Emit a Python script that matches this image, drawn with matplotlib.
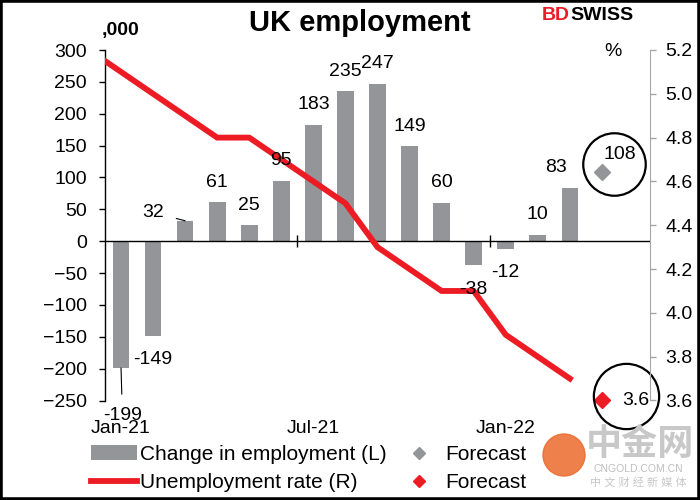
import numpy as np
import matplotlib
matplotlib.use('Agg')
import matplotlib.pyplot as plt
from matplotlib.patches import Patch, Ellipse, Rectangle
from matplotlib.lines import Line2D
from matplotlib.transforms import offset_copy

plt.rcParams['font.family'] = ['Liberation Sans', 'Noto Sans CJK SC', 'DejaVu Sans']

# --- data (Jan-21 .. Mar-22, forecast Apr-22) ---
emp_change = [-199, -149, 32, 61, 25, 95, 183, 235, 247, 149, 60, -38, -12, 10, 83]
emp_forecast = 108
# unemployment rate, Dec-20 .. Mar-22 (Dec-20 falls just left of the axis)
unemp_rate = [5.2, 5.1, 5.0, 4.9, 4.8, 4.8, 4.7, 4.6, 4.5, 4.3, 4.2, 4.1, 4.1, 3.9, 3.8, 3.7]
unemp_forecast = 3.6
xtick_pos = [0, 6, 12]
xtick_labels = ['Jan-21', 'Jul-21', 'Jan-22']

# label offsets in points (dx, dy) for bars, default sits above/below bar end
label_offsets = {0: (1, -34), 2: (-23, 6), 14: (-10, 15)}

BAR = '#939598'
RED = '#ED1C24'
FS = 14

x_bar = np.arange(len(emp_change))
x_fc = len(emp_change)
x_line = np.arange(-1, len(unemp_rate) - 1)

fig = plt.figure(figsize=(7, 5), dpi=100)
ax = fig.add_axes([105/700, 1 - 400.5/500, 545/700, 350.5/500])
ax2 = ax.twinx()

ax.bar(x_bar, emp_change, width=0.52, color=BAR, zorder=2)
ax.axhline(0, color='black', lw=1, zorder=3)
ax.set_xlim(-0.5, 16.5)
ax.set_ylim(-250, 300)
ax.set_yticks(range(-250, 301, 50))
ax.set_xticks(xtick_pos)
ax.set_xticklabels(xtick_labels)
ax.tick_params(axis='x', length=0, pad=14, labelsize=FS)
ax.tick_params(axis='y', length=4.5, width=1, pad=8.5, labelsize=FS)
for s in ['top', 'bottom', 'right']:
    ax.spines[s].set_visible(False)
ax.spines['left'].set_linewidth(1)

# small tick marks on the zero line every 6 months
zero_frac = (0 - (-250)) / (300 - (-250))
sec = ax.secondary_xaxis(zero_frac)
sec.set_xticks([5.5, 11.5])
sec.set_xticklabels([])
sec.tick_params(axis='x', direction='inout', length=8, width=1)
sec.spines['bottom'].set_visible(False)

ax2.plot(x_line, unemp_rate, color=RED, lw=4.2, solid_joinstyle='miter', zorder=3)
ax2.plot([x_fc], [unemp_forecast], marker='D', ms=8, color=RED, ls='none', clip_on=False)
ax2.set_ylim(3.6, 5.2)
ax2.set_yticks(np.arange(3.6, 5.21, 0.2))
ax2.set_yticklabels([f'{v:.1f}' for v in np.arange(3.6, 5.21, 0.2)])
ax2.tick_params(axis='y', length=4.5, width=1, pad=6.5, labelsize=FS, color='#A6A6A6')
for s in ['top', 'bottom', 'left']:
    ax2.spines[s].set_visible(False)
ax2.spines['right'].set_color('#A6A6A6')
ax2.set_xlim(-0.5, 16.5)

# employment forecast marker (left scale, drawn on top)
ax2.plot([x_fc], [emp_forecast], marker='D', ms=8, color=BAR, ls='none',
         transform=ax.transData, zorder=4)

# bar labels on top of the line
for i, v in enumerate(emp_change):
    dx, dy = label_offsets.get(i, (0, 14.5 if v > 0 else -17))
    arrow = dict(arrowstyle='-', color='black', lw=0.8, shrinkA=7, shrinkB=0) if i in (0, 2) else None
    ax2.annotate(str(v), xy=(i, v), xycoords=ax.transData, xytext=(dx, dy),
                 textcoords='offset points', ha='center', va='center', fontsize=FS,
                 arrowprops=arrow, zorder=5)
ax2.annotate(str(emp_forecast), xy=(x_fc, emp_forecast), xycoords=ax.transData,
             xytext=(13, 13), textcoords='offset points', ha='center', va='center', fontsize=FS)
ax2.annotate(f'{unemp_forecast:.1f}', xy=(x_fc, unemp_forecast), xytext=(24.5, 0),
             textcoords='offset points', ha='center', va='center', fontsize=FS,
             annotation_clip=False)

# highlight circles around forecasts
c1 = offset_copy(ax.transData, fig=fig, x=8.5, y=6, units='points')
ax2.plot([x_fc], [emp_forecast], marker='o', ms=45, mfc='none', mec='black', mew=1.6,
         transform=c1, clip_on=False)
c2 = offset_copy(ax2.transData, fig=fig, x=17, y=3, units='points')
ax2.plot([x_fc], [unemp_forecast], marker='o', ms=47, mfc='none', mec='black', mew=1.6,
         transform=c2, clip_on=False)

# titles and unit labels
fig.text(360/700, 1 - 23/500, 'UK employment', ha='center', va='center',
         fontsize=21, fontweight='bold')
fig.text(121/700, 1 - 31/500, ',000', ha='center', va='center', fontsize=14, fontweight='bold')
fig.text(613/700, 1 - 52/500, '%', ha='center', va='center', fontsize=14)

# BDSWISS logo text
bd = fig.text(542/700, 1 - 16/500, 'BD', ha='left', va='center', fontsize=14,
              fontweight='bold', color=RED)
fig.add_artist(plt.Annotation('SWISS', xy=(1, 0.5), xycoords=bd, va='center', ha='left',
                              fontsize=14, fontweight='bold', color='black'))

# legend
handles = [
    Patch(facecolor=BAR, edgecolor='none'),
    Line2D([], [], color=RED, lw=4.2),
    Line2D([], [], marker='D', ms=6, color=BAR, ls='none'),
    Line2D([], [], marker='D', ms=6, color=RED, ls='none'),
]
labels = ['Change in employment (L)', 'Unemployment rate (R)', 'Forecast', 'Forecast']
fig.legend(handles, labels, ncol=2, loc='upper left', bbox_to_anchor=(91/700, 1 - 445/500),
           frameon=False, fontsize=15, handlelength=2.2, handleheight=0.75,
           handletextpad=0.15, columnspacing=0.45, labelspacing=0.45, borderpad=0,
           borderaxespad=0)

# watermark
fig.add_artist(Ellipse((564/700, 1 - 455/500), 42/700, 42/500, color='#EB6A2C',
                       alpha=0.85, transform=fig.transFigure))
fig.text(640/700, 1 - 445/500, '中金网', ha='center', va='center', fontsize=26,
         color='#C8C8C8', fontweight='bold')
fig.text(638/700, 1 - 469/500, 'CNGOLD.COM.CN', ha='center', va='center', fontsize=7.5,
         color='#BEBEBE')
fig.text(638/700, 1 - 482/500, '中 文 财 经 新 媒 体', ha='center', va='center', fontsize=8,
         color='#C8C8C8')

# figure border
fig.add_artist(Rectangle((0, 0), 1, 1, transform=fig.transFigure, fill=False,
                         ec='black', lw=4))

fig.savefig('out.png', dpi=100)
